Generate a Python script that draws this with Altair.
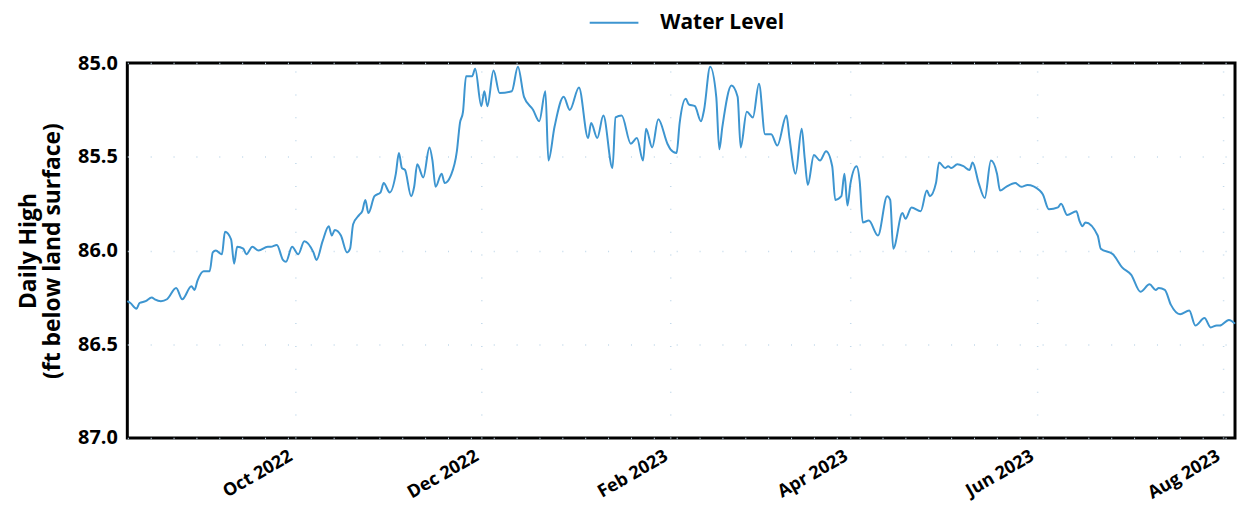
import altair as alt
import pandas as pd

# ---- data ----
dates = [
    "2022-08-07", "2022-08-08", "2022-08-10", "2022-08-11", "2022-08-13", "2022-08-15",
    "2022-08-16", "2022-08-18", "2022-08-20", "2022-08-23", "2022-08-25", "2022-08-28",
    "2022-08-29", "2022-08-30", "2022-09-01", "2022-09-03", "2022-09-04", "2022-09-05",
    "2022-09-07", "2022-09-08", "2022-09-10", "2022-09-11", "2022-09-12", "2022-09-14",
    "2022-09-15", "2022-09-17", "2022-09-19", "2022-09-22", "2022-09-23", "2022-09-25",
    "2022-09-27", "2022-09-28", "2022-09-30", "2022-10-02", "2022-10-04", "2022-10-07",
    "2022-10-08", "2022-10-10", "2022-10-12", "2022-10-13", "2022-10-14", "2022-10-16",
    "2022-10-18", "2022-10-19", "2022-10-20", "2022-10-22", "2022-10-23", "2022-10-24",
    "2022-10-25", "2022-10-27", "2022-10-29", "2022-10-30", "2022-11-01", "2022-11-03",
    "2022-11-04", "2022-11-05", "2022-11-06", "2022-11-08", "2022-11-09", "2022-11-10",
    "2022-11-12", "2022-11-14", "2022-11-15", "2022-11-16", "2022-11-18", "2022-11-19",
    "2022-11-21", "2022-11-23", "2022-11-24", "2022-11-25", "2022-11-26", "2022-11-28",
    "2022-11-29", "2022-12-01", "2022-12-02", "2022-12-03", "2022-12-05", "2022-12-07",
    "2022-12-11", "2022-12-13", "2022-12-15", "2022-12-18", "2022-12-20", "2022-12-22",
    "2022-12-23", "2022-12-25", "2022-12-28", "2022-12-30", "2023-01-02", "2023-01-05",
    "2023-01-06", "2023-01-08", "2023-01-10", "2023-01-13", "2023-01-14", "2023-01-16",
    "2023-01-19", "2023-01-21", "2023-01-23", "2023-01-24", "2023-01-26", "2023-01-28",
    "2023-01-31", "2023-02-01", "2023-02-03", "2023-02-04", "2023-02-06", "2023-02-07",
    "2023-02-09", "2023-02-11", "2023-02-12", "2023-02-14", "2023-02-16", "2023-02-17",
    "2023-02-18", "2023-02-21", "2023-02-23", "2023-02-24", "2023-02-26", "2023-02-28",
    "2023-03-02", "2023-03-04", "2023-03-06", "2023-03-08", "2023-03-11", "2023-03-12",
    "2023-03-14", "2023-03-16", "2023-03-17", "2023-03-18", "2023-03-20", "2023-03-22",
    "2023-03-24", "2023-03-26", "2023-03-27", "2023-03-29", "2023-03-30", "2023-03-31",
    "2023-04-01", "2023-04-03", "2023-04-04", "2023-04-05", "2023-04-07", "2023-04-10",
    "2023-04-13", "2023-04-14", "2023-04-15", "2023-04-18", "2023-04-19", "2023-04-21",
    "2023-04-24", "2023-04-26", "2023-04-27", "2023-04-29", "2023-04-30", "2023-05-02",
    "2023-05-03", "2023-05-04", "2023-05-06", "2023-05-08", "2023-05-10", "2023-05-11",
    "2023-05-13", "2023-05-15", "2023-05-17", "2023-05-19", "2023-05-20", "2023-05-22",
    "2023-05-25", "2023-05-27", "2023-05-29", "2023-06-02", "2023-06-03", "2023-06-05",
    "2023-06-08", "2023-06-09", "2023-06-11", "2023-06-14", "2023-06-15", "2023-06-16",
    "2023-06-17", "2023-06-21", "2023-06-22", "2023-06-26", "2023-06-29", "2023-07-02",
    "2023-07-05", "2023-07-08", "2023-07-10", "2023-07-11", "2023-07-13", "2023-07-15",
    "2023-07-18", "2023-07-21", "2023-07-23", "2023-07-26", "2023-07-28", "2023-07-30",
    "2023-07-31", "2023-08-03", "2023-08-05",
]

levels = [
    86.27, 86.28, 86.31, 86.28, 86.27, 86.25,
    86.26, 86.27, 86.26, 86.20, 86.26, 86.19,
    86.21, 86.16, 86.11, 86.11, 86.01, 86.00,
    86.02, 85.90, 85.94, 86.07, 85.98, 85.99,
    86.02, 85.98, 86.00, 85.98, 85.98, 85.97,
    86.05, 86.06, 85.98, 86.02, 85.95, 86.01,
    86.05, 85.95, 85.87, 85.92, 85.89, 85.92,
    86.01, 85.99, 85.86, 85.81, 85.79, 85.73,
    85.80, 85.71, 85.69, 85.64, 85.69, 85.59,
    85.48, 85.56, 85.57, 85.71, 85.66, 85.54,
    85.61, 85.45, 85.52, 85.66, 85.59, 85.64,
    85.60, 85.47, 85.32, 85.26, 85.07, 85.07,
    85.03, 85.23, 85.15, 85.23, 85.04, 85.16,
    85.15, 85.02, 85.18, 85.25, 85.31, 85.15,
    85.52, 85.34, 85.18, 85.25, 85.13, 85.40,
    85.32, 85.40, 85.28, 85.56, 85.29, 85.28,
    85.43, 85.40, 85.52, 85.35, 85.45, 85.30,
    85.43, 85.46, 85.48, 85.32, 85.19, 85.22,
    85.23, 85.31, 85.25, 85.02, 85.18, 85.46,
    85.34, 85.12, 85.18, 85.45, 85.26, 85.29,
    85.11, 85.38, 85.38, 85.44, 85.28, 85.40,
    85.59, 85.35, 85.51, 85.65, 85.49, 85.52,
    85.47, 85.55, 85.73, 85.71, 85.59, 85.76,
    85.64, 85.55, 85.63, 85.85, 85.84, 85.92,
    85.71, 85.73, 85.99, 85.80, 85.83, 85.77,
    85.79, 85.68, 85.71, 85.64, 85.53, 85.56,
    85.55, 85.56, 85.54, 85.55, 85.57, 85.53,
    85.64, 85.72, 85.52, 85.59, 85.68, 85.66,
    85.64, 85.66, 85.65, 85.68, 85.70, 85.78,
    85.77, 85.75, 85.81, 85.79, 85.84, 85.87,
    85.85, 85.92, 85.99, 86.02, 86.09, 86.13,
    86.22, 86.18, 86.21, 86.20, 86.21, 86.29,
    86.34, 86.32, 86.40, 86.36, 86.41, 86.40,
    86.40, 86.37, 86.39,
]

series_name = "Water Level"
x_tick_dates = [(2022, 10), (2022, 12), (2023, 2), (2023, 4), (2023, 6), (2023, 8)]
y_ticks = [85.0, 85.5, 86.0, 86.5, 87.0]
y_title = ["Daily High", "(ft below land surface)"]

df = pd.DataFrame({"date": dates, "level": levels, "series": series_name})

FONT = "Open Sans"
LINE_COLOR = "#3d95d0"

x_values = [alt.DateTime(year=y, month=m, date=1, utc=True) for y, m in x_tick_dates]

chart = alt.Chart(df).mark_line(strokeWidth=2, interpolate="monotone").encode(
    x=alt.X(
        "date:T",
        scale=alt.Scale(
            type="utc",
            domain=[alt.DateTime(year=2022, month=8, date=7, utc=True),
                    alt.DateTime(year=2023, month=8, date=5, utc=True)],
        ),
        axis=alt.Axis(
            title=None,
            format="%b %Y",
            values=x_values,
            labelAngle=-30,
            labelAlign="right",
            labelBaseline="top",
            labelPadding=9,
            labelOffset=-9,
            labelFontSize=18,
            labelFont=FONT,
            labelFontWeight="bold",
            labelColor="black",
            ticks=False,
            tickSize=0,
            domain=False,
            grid=True,
            gridColor="#c3d9ea",
            gridDash=[1, 22],
            gridWidth=1.5,
        ),
    ),
    y=alt.Y(
        "level:Q",
        scale=alt.Scale(domain=[85, 87], reverse=True, nice=False, zero=False),
        axis=alt.Axis(
            title=y_title,
            values=y_ticks,
            format=".1f",
            labelFontSize=20,
            labelFont=FONT,
            labelFontWeight="bold",
            labelColor="black",
            labelPadding=10,
            ticks=False,
            tickSize=0,
            domain=False,
            grid=True,
            gridColor="#c3d9ea",
            gridDash=[1, 22],
            gridWidth=1.5,
            titleFont=FONT,
            titleFontSize=23,
            titleFontWeight="bold",
            titleColor="black",
            titleLineHeight=24,
            titlePadding=13,
        ),
    ),
    color=alt.Color(
        "series:N",
        scale=alt.Scale(domain=[series_name], range=[LINE_COLOR]),
        legend=alt.Legend(
            title=None,
            orient="none",
            legendX=464,
            legendY=-66,
            symbolType="stroke",
            symbolSize=2400,
            symbolStrokeWidth=2,
            labelFont=FONT,
            labelFontSize=21,
            labelFontWeight="bold",
            labelColor="black",
            labelOffset=21,
        ),
    ),
).properties(
    width=1114,
    height=377,
    autosize=alt.AutoSizeParams(type="none"),
    padding={"left": 120, "top": 54, "right": 2, "bottom": 67},
    background="white",
).configure_view(
    stroke="black",
    strokeWidth=3,
)

chart.save("out.html", embed_options={"renderer": "svg", "actions": False})
